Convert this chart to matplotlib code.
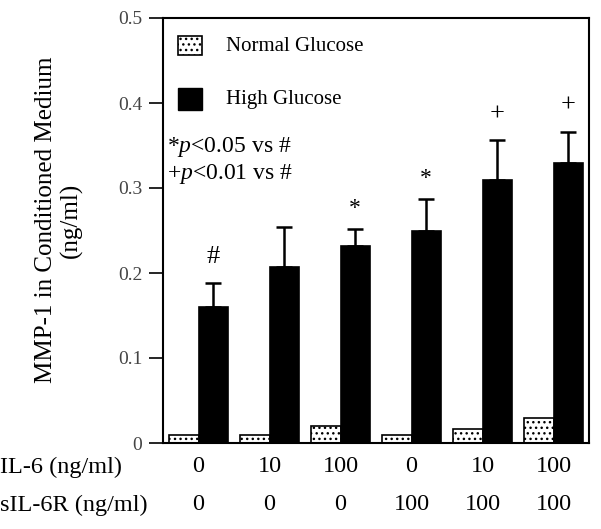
import numpy as np
import matplotlib.pyplot as plt

plt.rcParams['font.family'] = ['Liberation Serif', 'DejaVu Serif']
plt.rcParams['mathtext.fontset'] = 'custom'
plt.rcParams['mathtext.it'] = 'Liberation Serif:italic'
plt.rcParams['mathtext.rm'] = 'Liberation Serif'
plt.rcParams['hatch.linewidth'] = 1.0

il6 = ['0', '10', '100', '0', '10', '100']
sil6r = ['0', '0', '0', '100', '100', '100']
normal = [0.01, 0.01, 0.02, 0.01, 0.017, 0.03]
high = [0.16, 0.207, 0.232, 0.249, 0.31, 0.33]
high_err = [0.028, 0.047, 0.02, 0.038, 0.046, 0.036]
marks = ['#', '', '*', '*', '+', '+']

x = np.arange(len(il6))
w = 0.41

fig = plt.figure(figsize=(6.01, 5.29), dpi=100)
ax = fig.add_axes([163 / 601, 1 - 443 / 529, 426 / 601, 425 / 529])

ax.bar(x - w / 2, normal, w, color='white', edgecolor='black', hatch='...', linewidth=1.2)
ax.bar(x + w / 2, high, w, color='black', edgecolor='black', linewidth=1.2)
ax.errorbar(x + w / 2, high, yerr=[np.zeros(len(high)), high_err], fmt='none',
            ecolor='black', elinewidth=1.8, capsize=5.5, capthick=1.8)

for xi, h, e, m in zip(x, high, high_err, marks):
    if m:
        dy = 0.024 if m == '*' else 0.031
        fs = 17 if m == '*' else 19
        ax.text(xi + w / 2, h + e + dy, m, ha='center', va='center', fontsize=fs)

ax.set_xlim(-0.5, 5.5)
ax.set_ylim(0, 0.5)
ax.set_yticks([0, 0.1, 0.2, 0.3, 0.4, 0.5])
ax.set_yticklabels(['0', '0.1', '0.2', '0.3', '0.4', '0.5'])
ax.tick_params(axis='y', direction='out', length=10, width=1.2, pad=5,
               labelsize=14, labelcolor='#444444')
ax.set_xticks([])
for s in ax.spines.values():
    s.set_linewidth(1.5)

fig.text(59 / 601, 1 - 220 / 529, 'MMP-1 in Conditioned Medium\n(ng/ml)', fontsize=18,
         rotation=90, ha='center', va='center', multialignment='center', linespacing=1.15)

# legend by hand
ax.bar([-0.12], [0.023], 0.34, bottom=[0.456], color='white', edgecolor='black', hatch='...', linewidth=1.2)
ax.bar([-0.12], [0.026], 0.34, bottom=[0.392], color='black', edgecolor='black')
ax.text(0.39, 0.466, 'Normal Glucose', fontsize=15, va='center')
ax.text(0.39, 0.404, 'High Glucose', fontsize=15, va='center')
ax.text(-0.45, 0.348, r'*$\it{p}$<0.05 vs #', fontsize=17, va='center')
ax.text(-0.45, 0.317, r'+$\it{p}$<0.01 vs #', fontsize=17, va='center')

for xi, a, b in zip(x, il6, sil6r):
    ax.text(xi, -0.028, a, ha='center', va='center', fontsize=17.5, clip_on=False)
    ax.text(xi, -0.072, b, ha='center', va='center', fontsize=17.5, clip_on=False)
fig.text(0.0, 1 - 467 / 529, 'IL-6 (ng/ml)', fontsize=17.5, va='center')
fig.text(0.0, 1 - 505 / 529, 'sIL-6R (ng/ml)', fontsize=17.5, va='center')

fig.savefig('out.png', dpi=100)
